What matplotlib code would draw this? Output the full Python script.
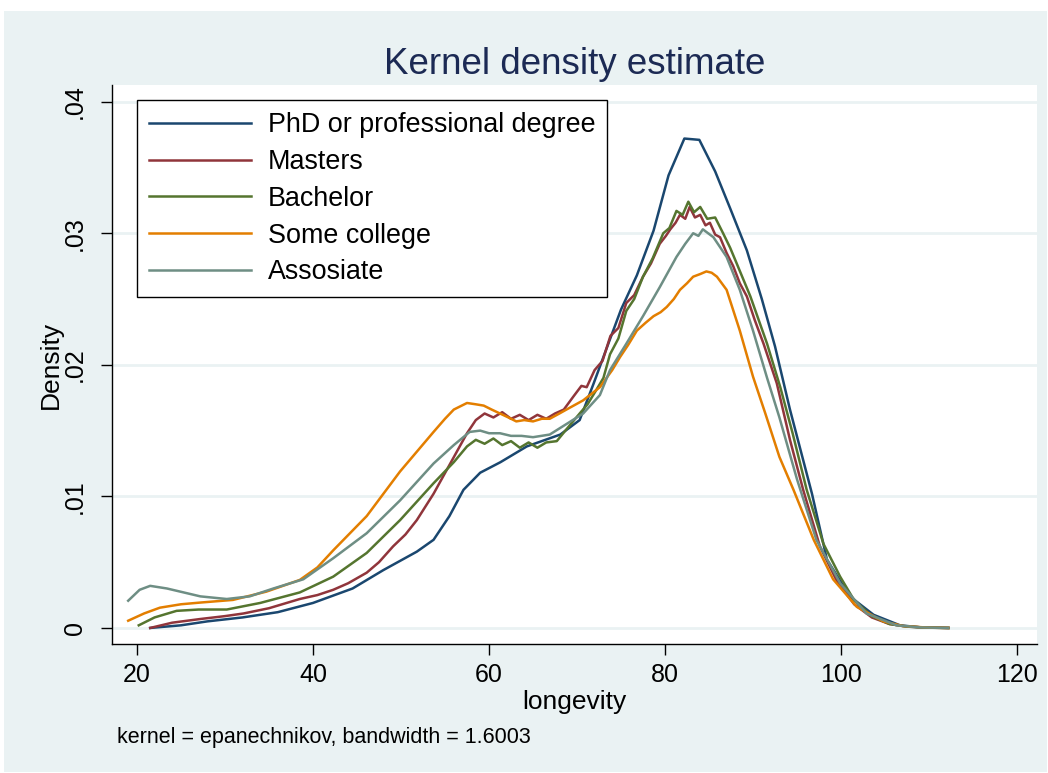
import matplotlib
matplotlib.use('Agg')
import matplotlib.pyplot as plt
from matplotlib.patches import Rectangle

plt.rcParams['font.family'] = ['Liberation Sans', 'DejaVu Sans']

# densities (longevity, density)
phd_x = [21.5, 25, 28, 32, 36, 40, 44.5, 48, 51.8, 53.7, 55.5, 57.1, 59, 61.3, 64.3, 68.1, 70.3,
         71.9, 73.5, 75, 76.8, 78.7, 80.4, 82.2, 83.9, 85.7, 87.4, 89.3, 91, 92.5, 94.2, 96.7,
         98.4, 101, 103.7, 106.7, 109, 112.2]
phd_y = [0, 0.0002, 0.0005, 0.0008, 0.0012, 0.0019, 0.003, 0.0044, 0.0058, 0.0067, 0.0085, 0.0105,
         0.0118, 0.0126, 0.0138, 0.0147, 0.0158, 0.0186, 0.0215, 0.0242, 0.0268, 0.0302, 0.0344,
         0.0372, 0.0371, 0.0347, 0.0319, 0.0287, 0.0250, 0.0214, 0.0166, 0.0102, 0.0052, 0.0024,
         0.0010, 0.0002, 0.00005, 0]

masters_x = [21.5, 24, 27.2, 30, 32.1, 35, 38.5, 40.5, 42.3, 44, 46.1, 47.5, 49.1, 50.5, 51.8, 53.7,
             55.6, 57.5, 58.5, 59.5, 60.5, 61.5, 62.5, 63.5, 64.5, 65.5, 66.5, 67.5, 68.5, 69.6, 70.5,
             71.1, 72, 72.9, 73.8, 74.7, 75.6, 76.5, 77.5, 78.4, 79.4, 80.1, 80.6, 81.2, 81.7, 82.3,
             82.8, 83.4, 84.0, 84.6, 85.1, 85.7, 86.25, 87, 87.75, 88.5, 89.3, 90.2, 91.2, 92.7, 94.2,
             95.7, 97.6, 99.5, 101.5, 103.5, 105.5, 107.5, 110, 112.2]
masters_y = [0, 0.0004, 0.00068, 0.0009, 0.0011, 0.0015, 0.0022, 0.0025, 0.0029, 0.0034, 0.0042,
             0.0050, 0.0062, 0.0071, 0.0082, 0.0102, 0.0125, 0.0148, 0.0158, 0.0163, 0.0160, 0.0164,
             0.0159, 0.0162, 0.0158, 0.0162, 0.0159, 0.0163, 0.0166, 0.0176, 0.0184, 0.0183, 0.0196,
             0.0203, 0.0222, 0.0228, 0.0247, 0.0253, 0.0267, 0.0277, 0.0292, 0.0298, 0.0303, 0.0308,
             0.0314, 0.0311, 0.0320, 0.0312, 0.0314, 0.0306, 0.0308, 0.0299, 0.0297, 0.0285, 0.0275,
             0.0262, 0.0252, 0.0234, 0.0216, 0.0186, 0.0143, 0.0105, 0.0062, 0.0036, 0.0018, 0.0008,
             0.0003, 0.0001, 0.00002, 0]

bachelor_x = [20.2, 22, 24.5, 27, 30.2, 34, 38.5, 42.3, 46.1, 49.9, 53.7, 56, 57.5, 58.5, 59.5, 60.5,
              61.5, 62.5, 63.5, 64.5, 65.5, 66.5, 67.7, 68.8, 70.3, 71.2, 72.2, 73, 73.75, 74.7, 75.6,
              76.5, 77.5, 78.6, 79.8, 80.5, 81.3, 82.0, 82.65, 83.3, 84, 84.8, 85.7, 86.6, 87.4, 88.15,
              89.7, 91.6, 93.1, 94.5, 96.1, 98, 99.9, 101.5, 103.5, 105.5, 107.5, 110, 112.2]
bachelor_y = [0.0002, 0.0008, 0.0013, 0.0014, 0.0014, 0.0019, 0.0027, 0.0039, 0.0057, 0.0082, 0.0110,
              0.0126, 0.0138, 0.0143, 0.0140, 0.0144, 0.0139, 0.0142, 0.0137, 0.0141, 0.0137, 0.0141,
              0.0142, 0.0151, 0.0163, 0.0170, 0.0181, 0.0190, 0.0208, 0.0220, 0.0241, 0.0250, 0.0267,
              0.0281, 0.0300, 0.0304, 0.0317, 0.0314, 0.0324, 0.0316, 0.0320, 0.0311, 0.0312, 0.0300,
              0.0289, 0.0277, 0.0252, 0.0216, 0.0183, 0.0148, 0.0105, 0.0064, 0.0039, 0.0021, 0.0009,
              0.0003, 0.0001, 0.00002, 0]

college_x = [19.0, 20.8, 22.6, 25, 27.2, 30.9, 34.7, 38.5, 40.5, 42.3, 44.2, 46.1, 48, 49.9, 51.8,
             53.7, 55, 56, 57.5, 58.5, 59.4, 60.3, 61.25, 62.2, 63.1, 64, 65, 66, 66.9, 68, 68.8, 70.7,
             72.6, 74, 74.9, 75.8, 76.8, 77.8, 78.7, 79.5, 80.2, 81, 81.7, 82.5, 83.2, 84, 84.7, 85.3,
             85.9, 87, 88.5, 90, 91.4, 93, 94.6, 96.9, 99.1, 101.8, 104.8, 107, 110, 112.2]
college_y = [0.00055, 0.0011, 0.00154, 0.0018, 0.00193, 0.00213, 0.00276, 0.00365, 0.0046, 0.0059,
             0.0072, 0.0085, 0.0102, 0.0119, 0.0134, 0.0149, 0.0159, 0.0166, 0.0171, 0.0170, 0.0169,
             0.0166, 0.0163, 0.0160, 0.0157, 0.0158, 0.0157, 0.0159, 0.0159, 0.0163, 0.0166, 0.0173,
             0.0183, 0.0196, 0.0206, 0.0215, 0.0226, 0.0232, 0.0237, 0.0240, 0.0244, 0.0250, 0.0257,
             0.0262, 0.0267, 0.0269, 0.0271, 0.0270, 0.0267, 0.0257, 0.0226, 0.0191, 0.0163, 0.0130,
             0.0105, 0.0067, 0.0037, 0.0016, 0.0005, 0.00015, 0.00002, 0]

assoc_x = [19.0, 20.3, 21.5, 23.4, 25.3, 27.2, 30.2, 32.8, 35.5, 38.9, 42.3, 46.1, 49.9, 53.7, 56,
           57.8, 59, 60, 61.25, 62.5, 63.7, 65, 66.9, 68.8, 70.7, 72.6, 73.75, 75.6, 77.5, 79.4, 81.3,
           82.3, 83.2, 83.8, 84.3, 85.5, 87, 88.5, 90, 91.6, 93, 95, 97.2, 99.9, 102.9, 106.3, 109, 112.2]
assoc_y = [0.00207, 0.0029, 0.0032, 0.0030, 0.0027, 0.0024, 0.0022, 0.0024, 0.0030, 0.0037, 0.0053,
           0.0072, 0.0097, 0.0125, 0.0139, 0.0149, 0.0150, 0.0148, 0.0148, 0.0146, 0.0146, 0.0145,
           0.0147, 0.0155, 0.0163, 0.0177, 0.0196, 0.0216, 0.0237, 0.0259, 0.0282, 0.0292, 0.0300,
           0.0298, 0.0303, 0.0297, 0.0282, 0.0257, 0.0226, 0.0190, 0.0160, 0.0113, 0.0067, 0.0034,
           0.0011, 0.0002, 0.00004, 0]

labels = ['PhD or professional degree', 'Masters', 'Bachelor', 'Some college', 'Assosiate']
colors = ['#1a476f', '#90353b', '#55752f', '#e37e00', '#6e8e84']
xs = [phd_x, masters_x, bachelor_x, college_x, assoc_x]
ys = [phd_y, masters_y, bachelor_y, college_y, assoc_y]

bg = '#eaf2f3'
W, H = 1048, 773
fig = plt.figure(figsize=(W / 100, H / 100), dpi=100)
fig.patch.set_facecolor('white')
fig.patches.append(Rectangle((4 / W, 1 / H), 1043 / W, 761 / H, transform=fig.transFigure,
                             facecolor=bg, edgecolor='none', zorder=-10))

ax = fig.add_axes([112 / W, (H - 644) / H, 925 / W, 559 / H])
ax.set_facecolor('white')

for x, y, lab, c in zip(xs, ys, labels, colors):
    ax.plot(x, y, color=c, lw=1.8, label=lab)

ax.set_xlim(17.16, 122.27)
ax.set_ylim(-0.00122, 0.04127)
ax.set_xticks([20, 40, 60, 80, 100, 120])
ax.set_yticks([0, 0.01, 0.02, 0.03, 0.04])
ax.set_yticklabels(['0', '.01', '.02', '.03', '.04'], rotation=90, va='center')
ax.tick_params(labelsize=18, length=8, width=1, direction='out', pad=6)
ax.tick_params(axis='y', pad=10)
ax.grid(axis='y', color=bg, lw=2)
ax.set_axisbelow(True)
for s in ['top', 'right']:
    ax.spines[s].set_visible(False)
ax.spines['left'].set_linewidth(1)
ax.spines['bottom'].set_linewidth(1)

ax.set_xlabel('longevity', fontsize=19, labelpad=2)
ax.set_ylabel('Density', fontsize=19, labelpad=0)
ax.set_title('Kernel density estimate', fontsize=26.5, color='#1c2a54', pad=8)

leg = ax.legend(loc='upper left', bbox_to_anchor=(0.027, 0.973), borderaxespad=0,
                fontsize=19.4, handlelength=3.8, handletextpad=0.6, labelspacing=0.4,
                fancybox=False, framealpha=1, edgecolor='black', borderpad=0.45)
leg.get_frame().set_linewidth(1)

fig.text(117 / W, (H - 737) / H, 'kernel = epanechnikov, bandwidth = 1.6003',
         fontsize=15.5, va='center', ha='left')

fig.savefig('out.png', dpi=100)
